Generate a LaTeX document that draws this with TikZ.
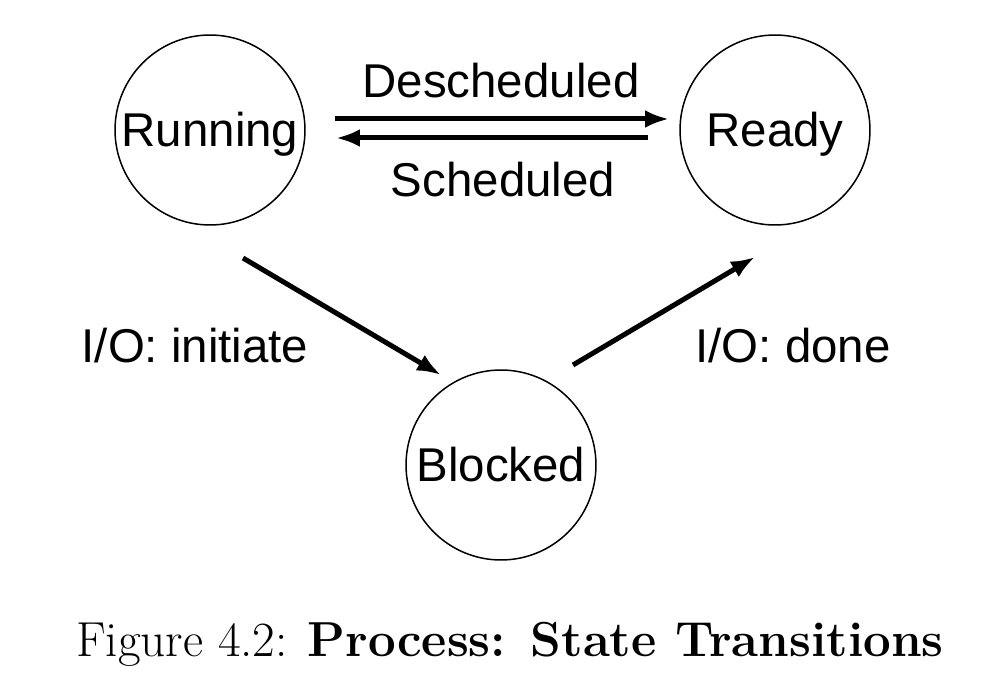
\documentclass[tikz,border=0pt]{standalone}
\usepackage{fontspec}
\newfontfamily\statefont{Liberation Sans}
\usetikzlibrary{arrows.meta}

\tikzset{
    state/.style={circle, draw, line width=0.03cm, minimum size=3.8cm, inner sep=0pt,
        text height=0.68cm, text depth=0pt, font=\statefont\fontsize{27}{32}\selectfont},
    lbl/.style={anchor=base, inner sep=0pt, font=\statefont\fontsize{27}{32}\selectfont},
    trans/.style={-{Latex[length=0.48cm,width=0.36cm]}, line width=0.1cm}
}

\begin{document}
\begin{tikzpicture}[x=0.02cm, y=0.02cm]

    % Fix the page size
    \useasboundingbox (0,0) rectangle (1004,690);

    % Define the three states
    \node[state] (running) at (210,560) {Running};
    \node[state] (ready) at (775,560) {Ready};
    \node[state] (blocked) at (501,225) {Blocked};

    % Define arrow end points
    % Descheduled goes right, Scheduled goes left
    \coordinate (desA) at (335,571);
    \coordinate (desB) at (669,571);
    \coordinate (schA) at (648,552);
    \coordinate (schB) at (336,552);
    % I/O arrows
    \coordinate (iniA) at (243,432);
    \coordinate (iniB) at (441,315);
    \coordinate (donA) at (573,325);
    \coordinate (donB) at (755,433);

    % Draw the transitions
    \draw[trans] (desA) -- (desB);
    \draw[trans] (schA) -- (schB);
    \draw[trans] (iniA) -- (iniB);
    \draw[trans] (donA) -- (donB);

    % Add labels for the transitions
    \node[lbl] (deslbl) at (501,592) {Descheduled};
    \node[lbl] (schlbl) at (503,493) {Scheduled};
    \node[lbl] (inilbl) at (195,327) {I/O: initiate};
    \node[lbl] (donlbl) at (793,327) {I/O: done};

    % Caption
    \node[anchor=base, inner sep=0pt, font=\fontsize{28}{34}\selectfont] (caption) at (510,34)
        {Figure 4.2: \textbf{Process: State Transitions}};

\end{tikzpicture}
\end{document}
